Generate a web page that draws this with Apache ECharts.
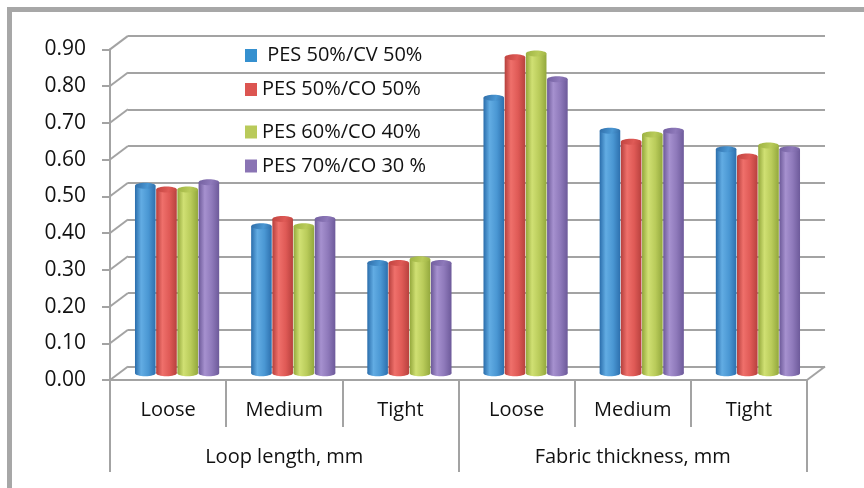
<!DOCTYPE html>
<html>
<head>
<meta charset="utf-8">
<script src="https://cdn.jsdelivr.net/npm/echarts@6/dist/echarts.min.js"></script>
<style>
  html, body { margin: 0; padding: 0; background: #ffffff; }
  #chart { width: 864px; height: 488px; }
</style>
</head>
<body>
<div id="chart"></div>
<script>
// ---- data ----
const categories = ['Loose', 'Medium', 'Tight', 'Loose', 'Medium', 'Tight'];
const groups = ['Loop length, mm', 'Fabric thickness, mm'];
const seriesNames = ['PES 50%/CV 50%', 'PES 50%/CO 50%', 'PES 60%/CO 40%', 'PES 70%/CO 30 %'];
const pesCv5050 = [0.51, 0.40, 0.30, 0.75, 0.66, 0.61];
const pesCo5050 = [0.50, 0.42, 0.30, 0.86, 0.63, 0.59];
const pesCo6040 = [0.50, 0.40, 0.31, 0.87, 0.65, 0.62];
const pesCo7030 = [0.52, 0.42, 0.30, 0.80, 0.66, 0.61];
const yMin = 0, yMax = 0.9, yStep = 0.1;

// ---- styling ----
const FONT = 'Open Sans';
const TEXT = '#111111';
const LINE = '#a3a3a3';
const PLOT_W = 697, PLOT_H = 330.67;
const FRONT_LEFT = 110, FRONT_TOP = 49.33;
const DEPTH_X = 18, DEPTH_Y = 13.5;       // offset of the back wall
const BAR_FILL = 0.73;                    // share of a category used by the four bars

const legendColors = ['#3590cf', '#dc5551', '#b9ca5a', '#8a74b4'];
const shades = [
  { side: ['#2a6dab', '#62ace3', '#4a97d3', '#2d70ae'], top: '#2f6da8' },
  { side: ['#b53f3c', '#ef706b', '#df5a56', '#b7413e'], top: '#c0433f' },
  { side: ['#93a73b', '#d0e073', '#b9cb5a', '#93a83d'], top: '#9db342' },
  { side: ['#6c5998', '#a691cf', '#8e79ba', '#6d5a9a'], top: '#725f9f' }
];
const seriesValues = [pesCv5050, pesCo5050, pesCo6040, pesCo7030];

function cylinderFill(s) {
  return new echarts.graphic.LinearGradient(0, 0, 1, 0, [
    { offset: 0, color: s.side[0] },
    { offset: 0.3, color: s.side[1] },
    { offset: 0.65, color: s.side[2] },
    { offset: 1, color: s.side[3] }
  ]);
}

function barRenderer(si) {
  return function (params, api) {
    const idx = api.value(0);
    const val = api.value(1);
    const top = api.coord([idx, val]);
    const base = api.coord([idx, 0]);
    const band = api.size([1, 0])[0];
    const bw = band * BAR_FILL / 4;
    const x = top[0] - 2 * bw + si * bw;
    const rx = bw / 2 - 0.3, ry = 3;
    const s = shades[si];
    const fill = cylinderFill(s);
    return {
      type: 'group',
      children: [
        { type: 'ellipse', shape: { cx: x + bw / 2, cy: base[1], rx: rx, ry: ry }, style: { fill: fill } },
        { type: 'rect', shape: { x: x + 0.3, y: top[1], width: bw - 0.6, height: base[1] - top[1] }, style: { fill: fill } },
        { type: 'ellipse', shape: { cx: x + bw / 2, cy: top[1], rx: rx, ry: ry },
          style: { fill: new echarts.graphic.LinearGradient(0, 0, 1, 1, [
            { offset: 0, color: s.top }, { offset: 0.6, color: s.side[2] }, { offset: 1, color: s.top }
          ]) } }
      ]
    };
  };
}

// diagonal lines joining the front axis to the back wall, plus the floor edge
const levels = [];
for (let v = yMin; v <= yMax + 1e-9; v += yStep) levels.push([0, +v.toFixed(2)]);

function wallRenderer(params, api) {
  const v = api.value(1);
  const p = api.coord([0, v]);
  const half = api.size([1, 0])[0] / 2;
  const x0 = p[0] - half;
  const lineStyle = { stroke: LINE, lineWidth: 2 };
  const children = [
    { type: 'line', shape: { x1: x0, y1: p[1], x2: x0 + DEPTH_X, y2: p[1] - DEPTH_Y }, style: lineStyle }
  ];
  if (v === yMin) {
    const xr = api.coord([categories.length - 1, v])[0] + half;
    children.push({ type: 'line', shape: { x1: xr, y1: p[1], x2: xr + DEPTH_X, y2: p[1] - DEPTH_Y }, style: lineStyle });
  }
  return { type: 'group', children: children };
}

const chart = echarts.init(document.getElementById('chart'), null, { renderer: 'canvas' });

const legends = [55.5, 89.5, 132, 166].map((cy, i) => ({
  data: [seriesNames[i]],
  left: 245,
  top: cy - 10,
  padding: 0,
  icon: 'rect',
  itemWidth: 12,
  itemHeight: 13,
  selectedMode: false,
  formatter: i === 0 ? (n) => ' ' + n : (n) => n,
  textStyle: { fontFamily: FONT, fontSize: 20, color: TEXT, lineHeight: 20 }
}));

const option = {
  backgroundColor: '#ffffff',
  animation: false,
  legend: legends,
  graphic: [{
    type: 'rect',
    shape: { x: 9.5, y: 9.5, width: 1000, height: 1000 },
    style: { fill: 'none', stroke: '#a7a7a7', lineWidth: 5 },
    z: 100
  }],
  grid: [
    { left: FRONT_LEFT, top: FRONT_TOP, width: PLOT_W, height: PLOT_H },
    { left: FRONT_LEFT + DEPTH_X, top: FRONT_TOP - DEPTH_Y, width: PLOT_W, height: PLOT_H },
    { left: FRONT_LEFT + DEPTH_X / 2, top: FRONT_TOP - DEPTH_Y / 2, width: PLOT_W, height: PLOT_H }
  ],
  xAxis: [
    {
      gridIndex: 0, type: 'category', data: categories, position: 'bottom',
      axisLine: { show: true, lineStyle: { color: LINE, width: 2 } },
      axisTick: { show: true, interval: 0, length: 47, lineStyle: { color: LINE, width: 2 } },
      axisLabel: { interval: 0, margin: 30, verticalAlign: 'middle', fontFamily: FONT, fontSize: 20, color: TEXT },
      splitLine: { show: false }
    },
    {
      gridIndex: 0, type: 'category', data: groups, position: 'bottom',
      axisLine: { show: false },
      axisTick: { show: true, interval: 0, length: 92, lineStyle: { color: LINE, width: 2 } },
      axisLabel: { interval: 0, margin: 77, verticalAlign: 'middle', fontFamily: FONT, fontSize: 20, color: TEXT },
      splitLine: { show: false }
    },
    { gridIndex: 1, type: 'category', data: categories, show: false },
    { gridIndex: 2, type: 'category', data: categories, show: false }
  ],
  yAxis: [
    {
      gridIndex: 0, type: 'value', min: yMin, max: yMax, interval: yStep,
      axisLine: { show: true, lineStyle: { color: LINE, width: 2 } },
      axisTick: { show: true, length: 8, lineStyle: { color: LINE, width: 2 } },
      axisLabel: { margin: 24, fontFamily: FONT, fontSize: 21, color: TEXT, formatter: (v) => v.toFixed(2) },
      splitLine: { show: false }
    },
    {
      gridIndex: 1, type: 'value', min: yMin, max: yMax, interval: yStep,
      axisLine: { show: false }, axisTick: { show: false }, axisLabel: { show: false },
      splitLine: { show: true, lineStyle: { color: LINE, width: 2 } }
    },
    {
      gridIndex: 2, type: 'value', min: yMin, max: yMax, interval: yStep, show: false,
      splitLine: { show: false }
    }
  ],
  series: [
    {
      type: 'custom', name: 'wall', xAxisIndex: 0, yAxisIndex: 0,
      data: levels, encode: { x: 0, y: 1 }, renderItem: wallRenderer, silent: true, z: 1
    }
  ].concat(seriesNames.map((name, si) => ({
    type: 'custom',
    name: name,
    xAxisIndex: 3, yAxisIndex: 2,
    itemStyle: { color: legendColors[si] },
    data: seriesValues[si].map((v, i) => [i, v]),
    encode: { x: 0, y: 1 },
    renderItem: barRenderer(si),
    z: 5
  })))
};

chart.setOption(option);
</script>
</body>
</html>
